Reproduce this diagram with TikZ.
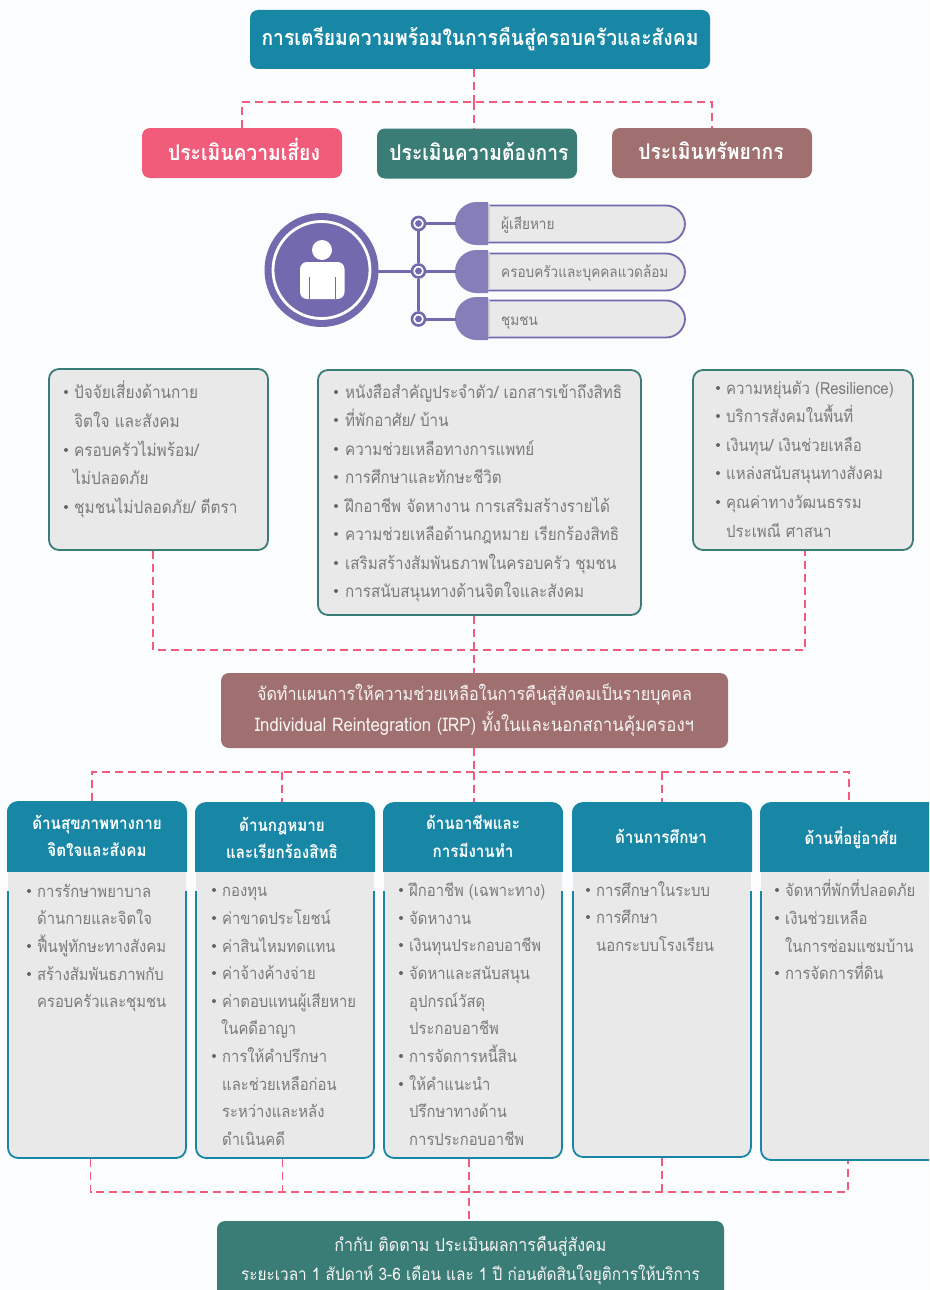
\documentclass[tikz,border=0pt]{standalone}
\usepackage{fontspec}
\setmainfont[Script=Thai,FakeStretch=0.893]{Loma}
\definecolor{bg}{HTML}{FAFCFE}
\definecolor{teal}{HTML}{1887A6}
\definecolor{grn}{HTML}{3A7D76}
\definecolor{pinkr}{HTML}{F05C7A}
\definecolor{brn}{HTML}{A07070}
\definecolor{pur}{HTML}{7269AE}
\definecolor{purl}{HTML}{857EB8}
\definecolor{panel}{HTML}{E9E9E9}
\definecolor{txt}{HTML}{7A7A7A}
\definecolor{bult}{HTML}{666666}
\definecolor{tabshade}{HTML}{CFCFCF}
\newcounter{tn}
\newlength{\lsz}
\newcommand{\pl}[3]{\stepcounter{tn}\node[listtext] (t\arabic{tn}) at (#1,#2+6) {#3};}
\newcommand{\bl}[4]{\fill[bult] (#1,#2) circle (2);\pl{#3}{#2}{#4}}
\tikzset{
  x=1pt,y=-1pt,
  bluebox/.style={inner sep=0pt,rounded corners=8pt,text=white},
  listtext/.style={anchor=base west,inner sep=0pt,text=txt,font=\fontsize{\lsz}{20}\selectfont},
  panelbox/.style={draw=grn,line width=1.8pt,fill=panel,rounded corners=10pt,inner sep=0pt},
  colbox/.style={draw=teal,line width=1.8pt,fill=panel,rounded corners=10pt,inner sep=0pt,minimum width=178pt},
  pill/.style={draw=pur,line width=1.8pt,fill=panel,rounded corners=19pt,inner sep=0pt,minimum width=216pt,minimum height=37pt},
  dashcon/.style={draw=pinkr,line width=1.9pt,dash pattern=on 8pt off 5pt},
  purline/.style={draw=pur,line width=3pt},
  dot/.style={circle,draw=pur,line width=2.6pt,fill=white,minimum size=13pt,inner sep=0pt},
  headtext/.style={anchor=base,inner sep=0pt,text=white,font=\bfseries\fontsize{17}{20}\selectfont},
  bigl/.style={anchor=base,inner sep=0pt,text=white,font=\bfseries\fontsize{21.6}{24}\selectfont},
  whitet/.style={anchor=base,inner sep=0pt,text=white!92!brn,font=\fontsize{18.1}{20}\selectfont},
  pilltext/.style={anchor=base west,inner sep=0pt,text=txt,font=\fontsize{15.2}{18}\selectfont},
}
\newcommand{\column}[4]{% name, left, top, bottom
  \node[colbox,minimum height=#4-#3] (#1) at (#2+90,{(#3+#4)/2}) {};
  \fill[bg] (#2,871) rectangle (#2+180,891);
  \fill[panel] (#2+1,871) rectangle (#2+179,891);
  \begin{scope}
    \clip (#2,#3-2) rectangle (#2+180,871);
    \fill[teal,rounded corners=10pt] (#2,#3) rectangle (#2+180,890);
  \end{scope}
}
\newcommand{\tabshape}[2]{\fill[tabshade] (488,#1+3) rectangle (490,#1+2*#2-3);\fill[purl] (488,#1) -- (476.5,#1) arc[start angle=-90,end angle=-270,radius=#2] -- (488,#1+2*#2) -- cycle;}
\begin{document}
\begin{tikzpicture}
\clip (0,0) rectangle (929,1290);
\fill[bg] (0,0) rectangle (929,1290);

% top row
\node[bluebox,fill=teal,minimum width=460pt,minimum height=59pt] (title) at (480,39.5) {};
\node[bluebox,fill=pinkr,minimum width=200pt,minimum height=50pt] (risk) at (242,153) {};
\node[bluebox,fill=grn,minimum width=200pt,minimum height=50pt] (need) at (477,153.5) {};
\node[bluebox,fill=brn,minimum width=200pt,minimum height=50pt] (res) at (712,153) {};
\node[bigl] (titlet) at (480,46) {การเตรียมความพร้อมในการคืนสู่ครอบครัวและสังคม};
\node[bigl] (riskt) at (244,160) {ประเมินความเสี่ยง};
\node[bigl] (needt) at (479,160) {ประเมินความต้องการ};
\node[bigl] (rest) at (711,159) {ประเมินทรัพยากร};
\coordinate (ja) at (474,102);
\coordinate (jb) at (242,102);
\coordinate (jc) at (712,102);
\draw[dashcon] (ja |- title.south) -- (ja);
\draw[dashcon] (risk.north -| jb) -- (jb) -- (jc) -- (res.north -| jc);
\draw[dashcon] (ja) -- (ja |- need.north);

% person
\fill[pur] (321.5,270) circle (57);
\draw[white,line width=2.8pt] (321.5,270) circle (48.5);
\fill[white] (322,250) circle (10);
\fill[white,rounded corners=7pt] (300,299) -- (300,262) -- (344.5,262) -- (344.5,299) -- cycle;
\fill[white] (306,290) rectangle (339,298);
\draw[pur,line width=1pt] (309,277) -- (309,299) (335.5,277) -- (335.5,299);

\node[pill] (p1) at (577,224) {};
\node[pill] (p2) at (577,272) {};
\node[pill] (p3) at (577,319) {};
\tabshape{202}{21.5}
\tabshape{250}{21.5}
\tabshape{297}{21.5}
\node[dot] (d1) at (418.5,223.5) {};
\node[dot] (d2) at (418.5,271) {};
\node[dot] (d3) at (418.5,319) {};
\coordinate (person) at (378,271);
\coordinate (e1) at (456,223.5);
\coordinate (e2) at (456,271);
\coordinate (e3) at (456,319);
\draw[purline] (person) -- (d2);
\draw[purline] (d1) -- (d2);
\draw[purline] (d2) -- (d3);
\draw[purline] (d1) -- (e1);
\draw[purline] (d2) -- (e2);
\draw[purline] (d3) -- (e3);
\fill[pur] (d1) circle (3.4) (d2) circle (3.4) (d3) circle (3.4);
\node[pilltext] (l1) at (501,229) {ผู้เสียหาย};
\node[pilltext] (l2) at (501,277) {ครอบครัวและบุคคลแวดล้อม};
\node[pilltext] (l3) at (501,325) {ชุมชน};

% three panels
\node[panelbox,minimum width=219pt,minimum height=181pt] (a) at (158.5,459.5) {};
\node[panelbox,minimum width=323pt,minimum height=245pt] (b) at (479.5,492.5) {};
\node[panelbox,minimum width=220pt,minimum height=180pt] (c) at (803,460) {};
\setlength{\lsz}{17.2pt}
\bl{66}{392}{74}{ปัจจัยเสี่ยงด้านกาย}
\pl{74}{421}{จิตใจ และสังคม}
\bl{66}{450}{74}{ครอบครัวไม่พร้อม/}
\pl{73}{478}{ไม่ปลอดภัย}
\bl{66}{507}{74}{ชุมชนไม่ปลอดภัย/ ตีตรา}
\setlength{\lsz}{17pt}
\bl{336}{392}{345}{หนังสือสำคัญประจำตัว/ เอกสารเข้าถึงสิทธิ}
\bl{336}{420}{345}{ที่พักอาศัย/ บ้าน}
\bl{336}{449}{345}{ความช่วยเหลือทางการแพทย์}
\bl{336}{477}{345}{การศึกษาและทักษะชีวิต}
\bl{336}{506}{345}{ฝึกอาชีพ จัดหางาน การเสริมสร้างรายได้}
\bl{336}{534}{345}{ความช่วยเหลือด้านกฎหมาย เรียกร้องสิทธิ}
\bl{336}{563}{345}{เสริมสร้างสัมพันธภาพในครอบครัว ชุมชน}
\bl{336}{591}{345}{การสนับสนุนทางด้านจิตใจและสังคม}
\setlength{\lsz}{16.8pt}
\bl{718}{388}{726}{ความหยุ่นตัว (Resilience)}
\bl{718}{416}{726}{บริการสังคมในพื้นที่}
\bl{718}{445}{726}{เงินทุน/ เงินช่วยเหลือ}
\bl{718}{473}{726}{แหล่งสนับสนุนทางสังคม}
\bl{718}{502}{726}{คุณค่าทางวัฒนธรรม}
\pl{726}{531}{ประเพณี ศาสนา}

% IRP
\node[bluebox,fill=brn,minimum width=507pt,minimum height=75pt] (irp) at (474.5,710.5) {};
\node[whitet] (irp1) at (474.5,700) {จัดทำแผนการให้ความช่วยเหลือในการคืนสู่สังคมเป็นรายบุคคล};
\node[whitet,font=\fontsize{18.8}{20}\selectfont] (irp2) at (474.5,731) {Individual Reintegration (IRP) ทั้งในและนอกสถานคุ้มครองฯ};
\coordinate (jd) at (153,650);
\coordinate (je) at (805,650);
\coordinate (jf) at (474,650);
\draw[dashcon] (a.south -| jd) -- (jd) -- (je) -- (c.south -| je);
\draw[dashcon] (jf |- b.south) -- (jf |- irp.north);

% columns
\column{c1}{7}{802}{1158}
\column{c2}{195}{803}{1158}
\column{c3}{383}{803}{1158}
\column{c4}{572}{803}{1157}
\column{c5}{760}{803}{1160}
\node[headtext] (h1a) at (97,829) {ด้านสุขภาพทางกาย};
\node[headtext] (h1b) at (97,856) {จิตใจและสังคม};
\node[headtext] (h2a) at (282,831) {ด้านกฎหมาย};
\node[headtext] (h2b) at (282,858) {และเรียกร้องสิทธิ};
\node[headtext] (h3a) at (473,829) {ด้านอาชีพและ};
\node[headtext] (h3b) at (473,857) {การมีงานทำ};
\node[headtext] (h4) at (661,843) {ด้านการศึกษา};
\node[headtext] (h5) at (851,844) {ด้านที่อยู่อาศัย};

\setlength{\lsz}{16.6pt}
\bl{29}{891}{37}{การรักษาพยาบาล}
\pl{37}{918}{ด้านกายและจิตใจ}
\bl{29}{946}{37}{ฟื้นฟูทักษะทางสังคม}
\bl{29}{974}{37}{สร้างสัมพันธภาพกับ}
\pl{37}{1001}{ครอบครัวและชุมชน}

\bl{214}{890}{222}{กองทุน}
\bl{214}{918}{222}{ค่าขาดประโยชน์}
\bl{214}{946}{222}{ค่าสินไหมทดแทน}
\bl{214}{973}{222}{ค่าจ้างค้างจ่าย}
\bl{214}{1001}{222}{ค่าตอบแทนผู้เสียหาย}
\pl{221}{1028}{ในคดีอาญา}
\bl{214}{1056}{222}{การให้คำปรึกษา}
\pl{222}{1084}{และช่วยเหลือก่อน}
\pl{222}{1111}{ระหว่างและหลัง}
\pl{222}{1139}{ดำเนินคดี}

\bl{401}{890}{409}{ฝึกอาชีพ (เฉพาะทาง)}
\bl{401}{918}{409}{จัดหางาน}
\bl{401}{945}{409}{เงินทุนประกอบอาชีพ}
\bl{401}{973}{409}{จัดหาและสนับสนุน}
\pl{409}{1001}{อุปกรณ์วัสดุ}
\pl{409}{1028}{ประกอบอาชีพ}
\bl{401}{1056}{409}{การจัดการหนี้สิน}
\bl{401}{1084}{409}{ให้คำแนะนำ}
\pl{409}{1111}{ปรึกษาทางด้าน}
\pl{409}{1139}{การประกอบอาชีพ}

\bl{588}{890}{596}{การศึกษาในระบบ}
\bl{588}{917}{596}{การศึกษา}
\pl{596}{945}{นอกระบบโรงเรียน}

\bl{777}{890}{785}{จัดหาที่พักที่ปลอดภัย}
\bl{777}{918}{785}{เงินช่วยเหลือ}
\pl{785}{946}{ในการซ่อมแซมบ้าน}
\bl{777}{973}{785}{การจัดการที่ดิน}

% IRP to columns
\coordinate (g1) at (92,772);
\coordinate (g2) at (282,772);
\coordinate (g3) at (474,772);
\coordinate (g4) at (662,772);
\coordinate (g5) at (849,772);
\draw[dashcon] (g3 |- irp.south) -- (g3);
\draw[dashcon] (g1 |- c1.north) -- (g1) -- (g5) -- (g5 |- c5.north);
\draw[dashcon] (g2) -- (g2 |- c2.north);
\draw[dashcon] (g3) -- (g3 |- c3.north);
\draw[dashcon] (g4) -- (g4 |- c4.north);

% bottom
\node[bluebox,fill=grn,minimum width=507pt,minimum height=85pt] (mon) at (470.5,1263.5) {};
\node[whitet,font=\fontsize{18}{20}\selectfont] (m1) at (470.5,1251) {กำกับ ติดตาม ประเมินผลการคืนสู่สังคม};
\node[whitet,font=\fontsize{17.2}{20}\selectfont] (m2) at (470.5,1280) {ระยะเวลา 1 สัปดาห์ 3-6 เดือน และ 1 ปี ก่อนตัดสินใจยุติการให้บริการ};
\coordinate (k1) at (90.5,1192);
\coordinate (k2) at (282.5,1192);
\coordinate (k3) at (469,1192);
\coordinate (k4) at (662,1192);
\coordinate (k5) at (848,1192);
\draw[dashcon] (k1 |- c1.south) -- (k1) -- (k5) -- (k5 |- c5.south);
\draw[dashcon] (k2 |- c2.south) -- (k2);
\draw[dashcon] (k4 |- c4.south) -- (k4);
\draw[dashcon] (k3 |- c3.south) -- (k3) -- (k3 |- mon.north);
\end{tikzpicture}
\end{document}
